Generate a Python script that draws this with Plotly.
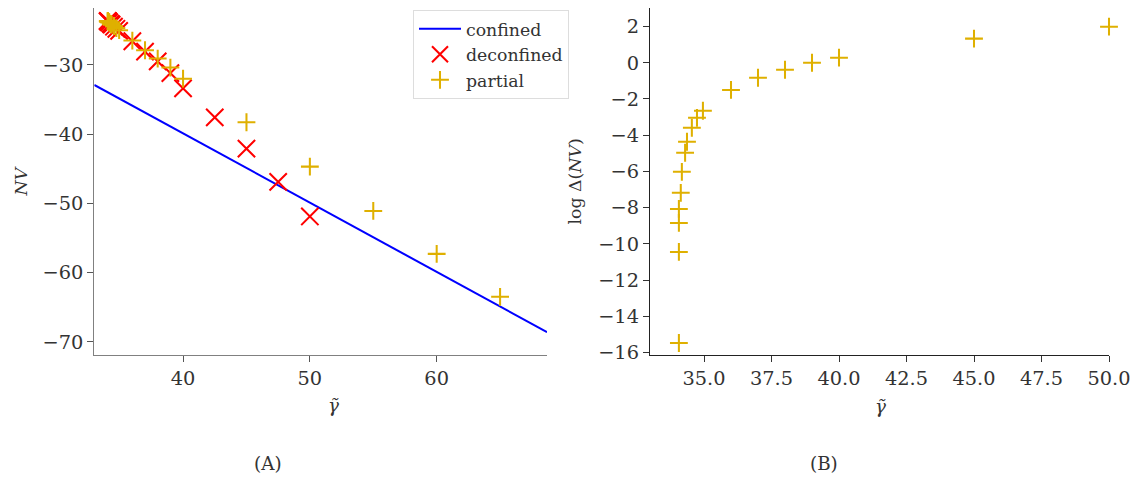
import plotly.graph_objects as go

# ---------------- data ----------------
confined_gamma = [33.0, 68.7]
confined_nv = [-32.9, -68.6]

deconf_gamma = [34.07, 34.07, 34.07, 34.07, 34.14, 34.18, 34.30, 34.37, 34.55, 34.74, 34.96,
                36.0, 37.0, 38.0, 39.0, 40.0, 42.5, 45.0, 47.5, 50.0]
deconf_nv = [-23.7, -23.7, -23.7, -23.7, -23.8, -23.9, -24.1, -24.2, -24.5, -24.8, -25.1,
             -26.6, -28.1, -29.5, -31.2, -33.4, -37.6, -42.1, -46.9, -51.9]

partial_gamma = [34.07, 34.07, 34.07, 34.07, 34.14, 34.18, 34.30, 34.37, 34.55, 34.74, 34.96,
                 36.0, 37.0, 38.0, 39.0, 40.0, 45.0, 50.0, 55.0, 60.0, 65.0]
partial_nv = [-23.7, -23.7, -23.7, -23.7, -23.8, -23.9, -24.1, -24.2, -24.4, -24.7, -25.0,
              -26.5, -27.9, -29.1, -30.4, -32.0, -38.3, -44.7, -51.1, -57.3, -63.5]

logd_gamma = [34.07, 34.07, 34.07, 34.07, 34.14, 34.18, 34.30, 34.37, 34.55, 34.74, 34.96,
              36.0, 37.0, 38.0, 39.0, 40.0, 45.0, 50.0]
logd_val = [-15.47, -10.44, -8.84, -8.07, -7.18, -6.02, -4.97, -4.36, -3.59, -3.04, -2.65,
            -1.50, -0.83, -0.39, 0.0, 0.28, 1.33, 1.99]

left_yticks = [-70, -60, -50, -40, -30]
left_xticks = [40, 50, 60]
right_xticks = [35.0, 37.5, 40.0, 42.5, 45.0, 47.5, 50.0]
right_yticks = [-16, -14, -12, -10, -8, -6, -4, -2, 0, 2]

# reference geometry is in a 1144x477 frame; the page is photographed at ~0.981 scale,
# so the figure is built slightly larger to fill the frame
RW, RH = 1144, 477
S = 1.019
W, H = round(RW * S), round(RH * S)
FONT = "DejaVu Serif"
TXT = "#333333"
GOLD = "#DFB000"

def px_x(p):
    return p / RW

def px_y(p):
    return 1 - p / RH

def s(v):
    return v * S

fig = go.Figure()

fig.add_trace(go.Scatter(x=confined_gamma, y=confined_nv, mode="lines", name="confined",
                         line=dict(color="#0000ff", width=s(2)), xaxis="x", yaxis="y"))
fig.add_trace(go.Scatter(x=deconf_gamma, y=deconf_nv, mode="markers", name="deconfined",
                         marker=dict(symbol="x-thin", size=s(17), line=dict(color="#ff0000", width=s(2)), color="#ff0000"),
                         xaxis="x", yaxis="y", cliponaxis=False))
fig.add_trace(go.Scatter(x=partial_gamma, y=partial_nv, mode="markers", name="partial",
                         marker=dict(symbol="cross-thin", size=s(12.5), line=dict(color=GOLD, width=s(2)), color=GOLD),
                         xaxis="x", yaxis="y", cliponaxis=False))
fig.add_trace(go.Scatter(x=logd_gamma, y=logd_val, mode="markers", name="partial", showlegend=False,
                         marker=dict(symbol="cross-thin", size=s(12.5), line=dict(color=GOLD, width=s(2)), color=GOLD),
                         xaxis="x2", yaxis="y2", cliponaxis=False))

axis_common = dict(showgrid=False, zeroline=False, showline=True, ticks="outside", ticklen=s(6),
                   tickwidth=s(1), linewidth=s(1), tickfont=dict(family=FONT, size=s(19), color=TXT))

fig.update_layout(
    width=W, height=H,
    margin=dict(l=0, r=0, t=0, b=0),
    paper_bgcolor="white", plot_bgcolor="white",
    font=dict(family=FONT, color=TXT),
    xaxis=dict(domain=[px_x(94.3), px_x(547)], range=[33, 68.7], tickvals=left_xticks,
               linecolor="#808080", tickcolor="#555555", anchor="y", **axis_common),
    yaxis=dict(domain=[px_y(355), px_y(8)], range=[-71.9, -21.8], tickvals=left_yticks,
               linecolor="#808080", tickcolor="#555555", anchor="x", **axis_common),
    xaxis2=dict(domain=[px_x(650), px_x(1109)], range=[33, 50], tickvals=right_xticks, tickformat=".1f",
                linecolor="#222222", tickcolor="#333333", anchor="y2", **axis_common),
    yaxis2=dict(domain=[px_y(355), px_y(8)], range=[-16.13, 3.02], tickvals=right_yticks,
                linecolor="#222222", tickcolor="#333333", anchor="x2", **axis_common),
    legend=dict(x=px_x(413), y=px_y(10), xanchor="left", yanchor="top",
                bgcolor="rgba(255,255,255,0.8)", bordercolor="#dddddd", borderwidth=1,
                font=dict(family=FONT, size=s(17), color=TXT), tracegroupgap=0, itemwidth=42),
    showlegend=True,
)

annots = [
    dict(text="<i>γ̃</i>", x=px_x(333), y=px_y(405), size=18, angle=0),
    dict(text="<i>γ̃</i>", x=px_x(880), y=px_y(406), size=18, angle=0),
    dict(text="<i>NV</i>", x=px_x(20), y=px_y(181.5), size=17, angle=-90),
    dict(text="log Δ(<i>NV</i>)", x=px_x(574), y=px_y(181.5), size=17, angle=-90),
    dict(text="(A)", x=px_x(268), y=px_y(463), size=18, angle=0),
    dict(text="(B)", x=px_x(824), y=px_y(463), size=18, angle=0),
]
for a in annots:
    fig.add_annotation(text=a["text"], x=a["x"], y=a["y"], xref="paper", yref="paper",
                       xanchor="center", yanchor="middle", showarrow=False, textangle=a["angle"],
                       font=dict(family=FONT, size=s(a["size"]), color=TXT))

fig.write_html("out.html")
